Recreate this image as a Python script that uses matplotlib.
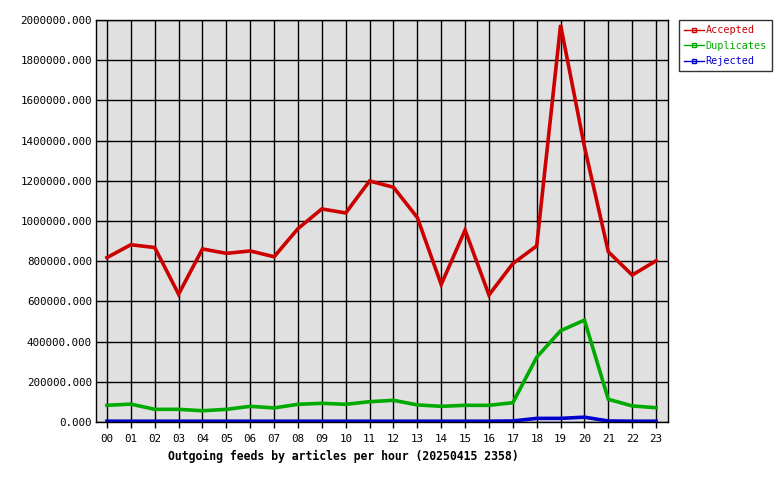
import matplotlib
matplotlib.use('Agg')
import matplotlib.pyplot as plt
from matplotlib.ticker import FuncFormatter

# hourly article counts
hours = ['00', '01', '02', '03', '04', '05', '06', '07', '08', '09', '10', '11',
         '12', '13', '14', '15', '16', '17', '18', '19', '20', '21', '22', '23']
accepted = [818000, 882000, 868000, 636000, 861000, 839000, 851000, 822000,
            962000, 1060000, 1040000, 1199000, 1168000, 1017000, 684000, 955000,
            632000, 788000, 876000, 1975000, 1370000, 847000, 731000, 802000]
duplicates = [83000, 89000, 63000, 63000, 56000, 63000, 78000, 70000,
              88000, 93000, 88000, 101000, 108000, 85000, 78000, 83000,
              83000, 96000, 322000, 454000, 507000, 113000, 80000, 71000]
rejected = [4000, 4000, 4000, 4000, 4000, 4000, 4000, 4000,
            4000, 4000, 4000, 4000, 4000, 4000, 4000, 4000,
            4000, 5000, 18000, 18000, 24000, 5000, 4000, 4000]
series_names = ['Accepted', 'Duplicates', 'Rejected']
series_colors = ['#cc0000', '#00aa00', '#0000cc']
title = 'Outgoing feeds by articles per hour (20250415 2358)'

plt.rcParams['font.family'] = ['DejaVu Sans Mono']

fig = plt.figure(figsize=(7.8, 4.8), dpi=100)
ax = fig.add_axes([96 / 780, 58 / 480, 572 / 780, 402 / 480])
ax.set_facecolor('#e0e0e0')

x = list(range(len(hours)))
for vals, name, col in zip([accepted, duplicates, rejected], series_names, series_colors):
    ax.plot(x, vals, color=col, linewidth=2.6, label=name, solid_joinstyle='miter')

ax.set_xlim(-0.46, 23.5)
ax.set_ylim(0, 2000000)
ax.set_xticks(x)
ax.set_xticklabels(hours)
ax.set_yticks(range(0, 2000001, 200000))
ax.yaxis.set_major_formatter(FuncFormatter(lambda v, p: '%.3f' % v))
ax.grid(True, color='black', linewidth=1)
ax.set_axisbelow(True)
for s in ax.spines.values():
    s.set_color('black')
    s.set_linewidth(1)

ax.tick_params(axis='x', length=4, width=1, pad=5, labelsize=7.8)
ax.tick_params(axis='y', length=0, pad=3, labelsize=7.8)

ax.set_xlabel(title, fontsize=8.3, fontweight='bold', labelpad=4)
ax.xaxis.set_label_coords(0.432, -0.07)

leg = ax.legend(loc='upper left', bbox_to_anchor=(1.019, 1.0), frameon=True,
                fancybox=False, fontsize=7.3, handlelength=2.0, handletextpad=0.15,
                borderpad=0.5, labelspacing=0.55, borderaxespad=0)
leg.get_frame().set_edgecolor('black')
leg.get_frame().set_linewidth(1)
for line, text, col in zip(leg.get_lines(), leg.get_texts(), series_colors):
    line.set_linewidth(1)
    line.set_marker('s')
    line.set_markersize(3)
    line.set_markerfacecolor('none')
    line.set_markevery([1])
    text.set_color(col)

fig.savefig('out.png', dpi=100, facecolor='white')
plt.close(fig)
